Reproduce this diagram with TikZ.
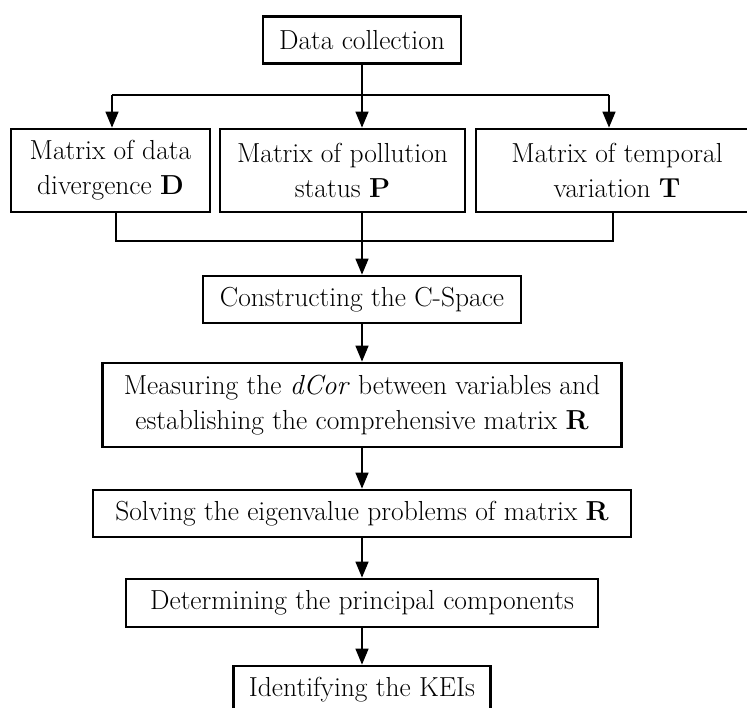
\documentclass[tikz,border=0pt]{standalone}
\usetikzlibrary{arrows.meta,calc}
\begin{document}
\begin{tikzpicture}[x=1pt,y=1pt,
  box/.style={draw,line width=2.8pt,inner sep=1pt,align=center,font=\fontsize{27.5}{35}\selectfont},
  conn/.style={line width=1.5pt},
  arr/.style={conn,-{Triangle[length=16pt,width=13pt]}},
  thick conn/.style={line width=2.8pt}]
\useasboundingbox (0,0) rectangle (747,-707);
\node[box,minimum width=198pt,minimum height=47pt] (dc) at (362,-40) {Data collection};
\node[box,minimum width=199pt,minimum height=83pt] (D) at (110.5,-170.5) {Matrix of data\\divergence \textbf{D}};
\node[box,minimum width=245pt,minimum height=83pt] (P) at (342.5,-170.5) {Matrix of pollution\\status \textbf{P}};
\node[box,minimum width=282pt,minimum height=83pt] (T) at (617,-170.5) {Matrix of temporal\\variation \textbf{T}};
\node[box,minimum width=318pt,minimum height=47pt] (cs) at (362,-299.5) {Constructing the C-Space};
\node[box,minimum width=519pt,minimum height=84pt] (ms) at (362,-405) {Measuring the \textit{dCor} between variables and\\establishing the comprehensive matrix \textbf{R}};
\node[box,minimum width=538pt,minimum height=47pt] (sv) at (362,-513.5) {Solving the eigenvalue problems of matrix \textbf{R}};
\node[box,minimum width=472pt,minimum height=48pt] (dt) at (362,-603) {Determining the principal components};
\node[box,minimum width=257pt,minimum height=47pt] (id) at (362,-689.5) {Identifying the KEIs};
% branch
\coordinate (bj) at (362,-95);
\coordinate (bl) at (112,-95);
\coordinate (br) at (609,-95);
\draw[conn] (dc.south) -- (bj);
\draw[conn] (bl) -- (br);
\draw[arr] (bl) -- (bl |- D.north);
\draw[arr] (bj) -- (bj |- P.north);
\draw[arr] (br) -- (br |- T.north);
% merge
\coordinate (ml) at (116,-241);
\coordinate (mr) at (613,-241);
\draw[thick conn] (ml |- D.south) -- (ml) -- (mr) -- (mr |- T.south);
\coordinate (pb) at (362,-212);
\draw[arr] (pb) -- (pb |- cs.north);
\draw[arr] (cs.south) -- (ms.north);
\draw[arr] (ms.south) -- (sv.north);
\draw[arr] (sv.south) -- (dt.north);
\draw[arr] (dt.south) -- (id.north);
\end{tikzpicture}
\end{document}
